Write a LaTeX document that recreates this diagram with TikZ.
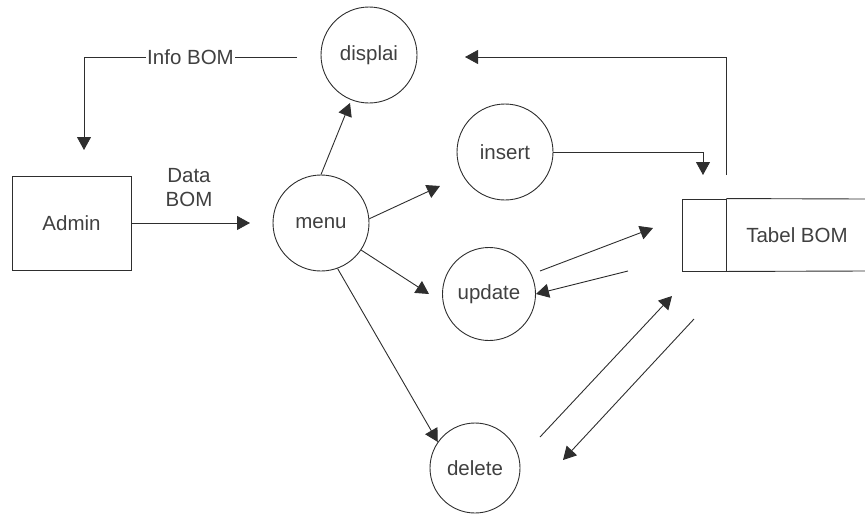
\documentclass[tikz,border=0pt]{standalone}
\usepackage{fontspec}
\setmainfont{Liberation Sans}
\usetikzlibrary{arrows.meta}
\definecolor{ink}{HTML}{2E2E2E}
\definecolor{txt}{HTML}{404040}
\tikzset{
  proc/.style={circle, draw=ink, line width=0.9pt, minimum size=#1, inner sep=0pt, text=txt, font=\fontsize{20.5}{24}\selectfont},
  ent/.style={rectangle, draw=ink, line width=0.9pt, inner sep=0pt, text=txt, font=\fontsize{20.5}{24}\selectfont},
  flow/.style={draw=ink, line width=0.9pt, -{Triangle[length=13pt,width=14pt]}},
  lbl/.style={text=txt, font=\fontsize{20.5}{24}\selectfont, align=center, inner sep=1pt}
}
\begin{document}
\begin{tikzpicture}[x=1pt,y=-1pt]
\useasboundingbox (0,0) rectangle (865,515);
% nodes
\node[proc=96pt] (displai) at (369,55) {displai};
\node[proc=96pt] (menu) at (321,223) {menu};
\node[proc=96pt] (insert) at (505,152) {insert};
\node[proc=93pt] (update) at (489,294) {update};
\node[proc=90pt] (delete) at (475,468) {delete};
\node[ent, minimum width=119pt, minimum height=94pt] (admin) at (71.5,223) {Admin};
\node[ent, minimum width=44pt, minimum height=72pt] (tabl) at (704,235) {};
\node[lbl] (tabeltxt) at (797,235) {Tabel BOM};
\draw[ink, line width=0.9pt] (tabl.north east) -- (866,199) (tabl.south east) -- (866,271);
% coordinates
\coordinate (ib0) at (297,57);
\coordinate (ib1) at (84,57);
\coordinate (ib2) at (84,150);
\coordinate (dbE) at (250,223);
\coordinate (mdT) at (350,103);
\coordinate (miT) at (440,186);
\coordinate (muT) at (429,294);
\coordinate (itC) at (703,152);
\coordinate (itT) at (703,175);
\coordinate (tdS) at (726,175);
\coordinate (tdC) at (726,57);
\coordinate (tdT) at (465,57);
\coordinate (utS) at (540,271);
\coordinate (utT) at (653,228);
\coordinate (tuS) at (628,271);
\coordinate (dtS) at (540,437);
\coordinate (dtT) at (672,296);
\coordinate (tdlS) at (694,319);
\coordinate (tdlT) at (563,460);
% flows
\draw[flow] (ib0) -- node[lbl, fill=white, pos=0.5] (infobom) {Info BOM} (ib1 |- ib0) -- (ib2);
\draw[flow] (admin.east) -- (dbE);
\node[lbl] (databom) at (189,188) {Data\\BOM};
\draw[flow] (menu.north) -- (mdT);
\draw[flow] (menu.5) -- (miT);
\draw[flow] (menu.-34) -- (muT);
\draw[flow] (menu.-70) -- (delete.145);
\draw[flow] (insert.east) -- (itC) -- (itT);
\draw[flow] (tdS) -- (tdC) -- (tdT);
\draw[flow] (utS) -- (utT);
\draw[flow] (tuS) -- (update.east);
\draw[flow] (dtS) -- (dtT);
\draw[flow] (tdlS) -- (tdlT);
\end{tikzpicture}
\end{document}
